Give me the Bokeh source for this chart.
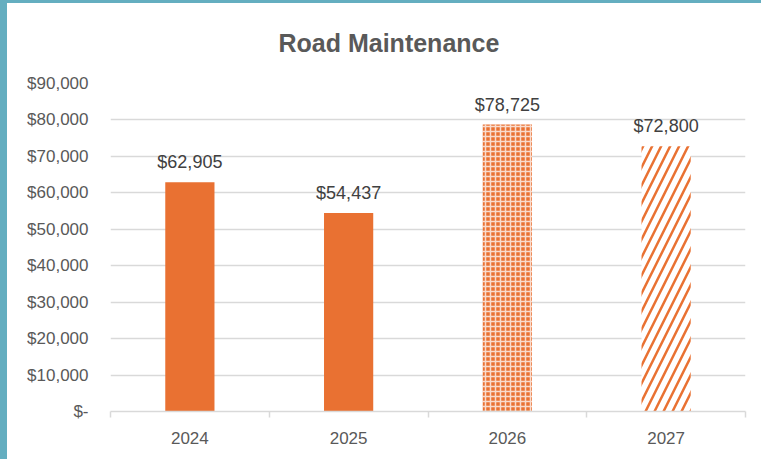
from bokeh.plotting import figure
from bokeh.models import FixedTicker, CustomJSTickFormatter, Range1d
from bokeh.embed import file_html
from bokeh.resources import INLINE
from bokeh.core.properties import value

# ---- data ----
years = ["2024", "2025", "2026", "2027"]
costs = [62905, 54437, 78725, 72800]
y_ticks = [0, 10000, 20000, 30000, 40000, 50000, 60000, 70000, 80000, 90000]
title_text = "Road Maintenance"

ORANGE = "#E97132"
GRID = "#d9d9d9"
TXT = "#595959"
FONT = "Liberation Sans"
TEAL = "#64AEC0"

xs = [i + 0.5 for i in range(len(years))]
labels = ["${:,}".format(c) for c in costs]

p = figure(width=761, height=459, output_backend="svg", toolbar_location=None,
           x_range=Range1d(0, len(years)), y_range=Range1d(0, y_ticks[-1]),
           min_border_left=103, min_border_right=23, min_border_top=80, min_border_bottom=51)
p.styles = {"border-left": "7px solid " + TEAL, "border-top": "3px solid " + TEAL}
p.outline_line_color = None
p.background_fill_color = "white"
p.border_fill_color = "white"

# title
p.title.text = title_text
p.title.align = "left"
p.title.offset = 168
p.title.vertical_align = "top"
p.title.standoff = 50
p.title.text_font = FONT
p.title.text_font_size = "25px"
p.title.text_font_style = "bold"
p.title.text_color = TXT

BW = 0.31
# solid bars (2024, 2025)
p.vbar(x=xs[:2], top=costs[:2], width=BW, fill_color=ORANGE, line_color=None)
# 2026 patterned (orange with white lattice)
p.vbar(x=xs[2:3], top=costs[2:3], width=BW, fill_color=ORANGE, line_color=None,
       hatch_pattern="cross", hatch_color="white", hatch_weight=1.5, hatch_scale=5,
       hatch_alpha=0.75)
# 2027 diagonal stripes
p.vbar(x=xs[3:4], top=costs[3:4], width=BW, fill_color="white", line_color=None,
       hatch_pattern="right_diagonal_line", hatch_color=ORANGE, hatch_weight=2.5, hatch_scale=18)

# data labels
p.text(x=xs, y=costs, text=labels, text_align="center", text_baseline="alphabetic",
       y_offset=-20, text_font=value(FONT), text_font_size="18px", text_color="#404040")

# y axis
p.yaxis.ticker = FixedTicker(ticks=y_ticks, minor_ticks=[])
p.yaxis.formatter = CustomJSTickFormatter(
    code="return tick == 0 ? '$-' : '$' + tick.toLocaleString('en-US');")
p.yaxis.axis_line_color = None
p.yaxis.major_tick_line_color = None
p.yaxis.minor_tick_line_color = None
p.yaxis.major_tick_out = 0
p.yaxis.major_tick_in = 0
p.yaxis.major_label_standoff = 22
p.yaxis.major_label_text_font = FONT
p.yaxis.major_label_text_font_size = "17px"
p.yaxis.major_label_text_color = TXT

# x axis: labels at centers, tick marks at category boundaries
p.xaxis.ticker = FixedTicker(ticks=xs, minor_ticks=list(range(len(years) + 1)))
p.xaxis.formatter = CustomJSTickFormatter(args=dict(years=years),
                                          code="return years[Math.floor(tick)];")
p.xaxis.axis_line_color = GRID
p.xaxis.axis_line_width = 1.5
p.xaxis.major_tick_line_color = None
p.xaxis.major_tick_out = 0
p.xaxis.major_tick_in = 0
p.xaxis.minor_tick_line_color = GRID
p.xaxis.minor_tick_line_width = 1.5
p.xaxis.minor_tick_out = 6
p.xaxis.minor_tick_in = 0
p.xaxis.major_label_standoff = 14
p.xaxis.major_label_text_font = FONT
p.xaxis.major_label_text_font_size = "17px"
p.xaxis.major_label_text_color = TXT

p.xgrid.visible = False
p.ygrid.grid_line_color = GRID
p.ygrid.grid_line_width = 1.5

open("out.html", "w").write(file_html(p, INLINE))
